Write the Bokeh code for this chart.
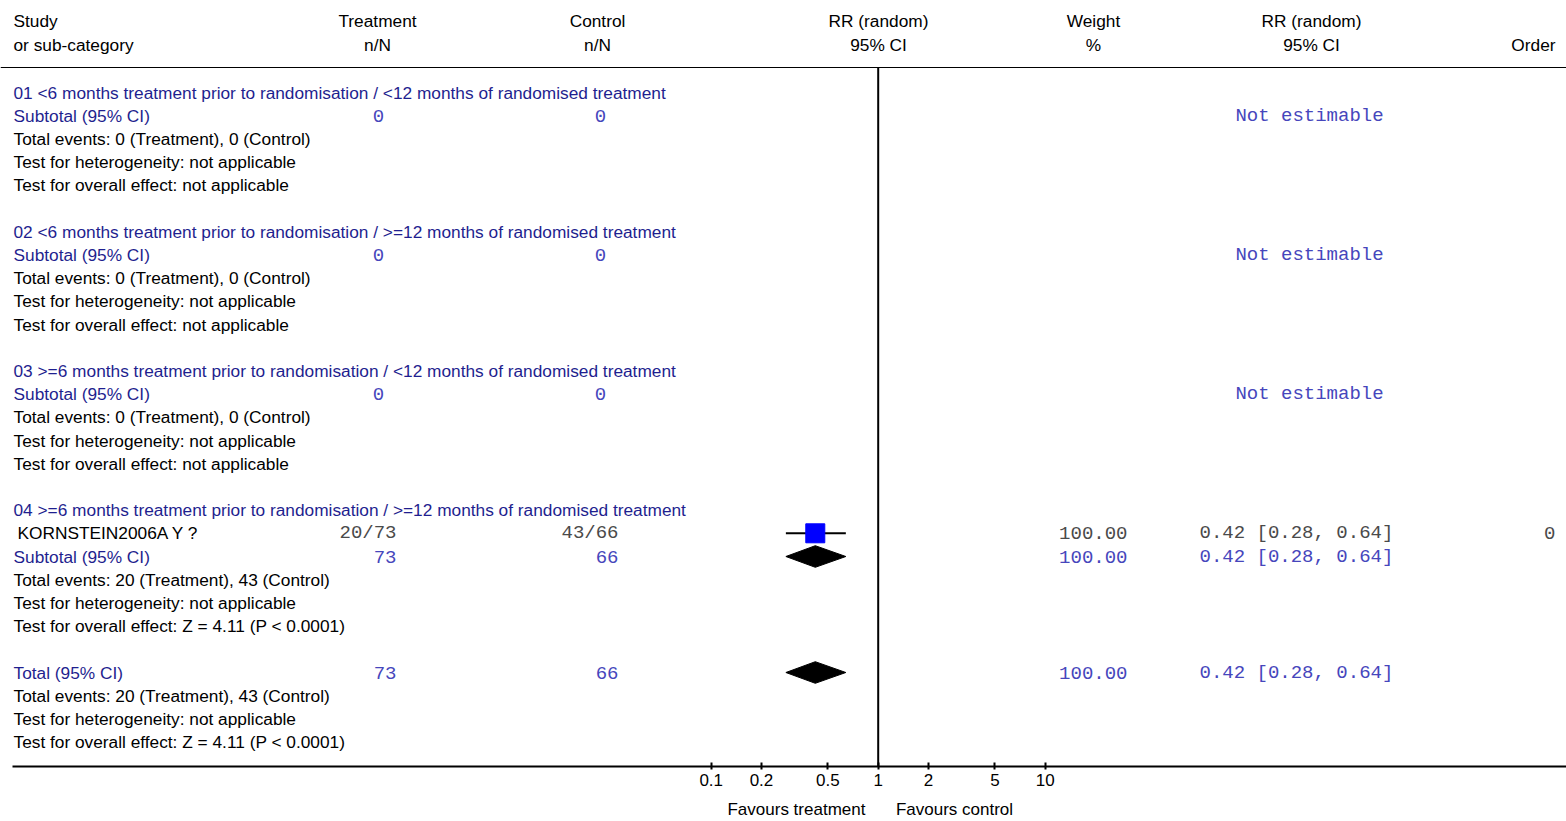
import math
from bokeh.plotting import figure
from bokeh.models import (Range1d, LogScale, LogAxis, FixedTicker,
                          CustomJSTickFormatter, Span)
from bokeh.core.properties import value
from bokeh.embed import file_html
from bokeh.resources import INLINE

# ---------------- data ----------------
header_top = ["Study", "Treatment", "Control", "RR (random)", "Weight", "RR (random)", ""]
header_bottom = ["or sub-category", "n/N", "n/N", "95% CI", "%", "95% CI", "Order"]

subgroups = [
    "01 <6 months treatment prior to randomisation / <12 months of randomised treatment",
    "02 <6 months treatment prior to randomisation / >=12 months of randomised treatment",
    "03 >=6 months treatment prior to randomisation / <12 months of randomised treatment",
    "04 >=6 months treatment prior to randomisation / >=12 months of randomised treatment",
]
sub_treat_N = [0, 0, 0, 73]
sub_ctrl_N = [0, 0, 0, 66]
sub_treat_events = [0, 0, 0, 20]
sub_ctrl_events = [0, 0, 0, 43]
sub_rr = [None, None, None, 0.42]
sub_lo = [None, None, None, 0.28]
sub_hi = [None, None, None, 0.64]
sub_weight = [None, None, None, 100.00]
sub_heterogeneity = ["not applicable"] * 4
sub_overall = ["not applicable", "not applicable", "not applicable", "Z = 4.11 (P < 0.0001)"]

study_group = [3]
study_names = ["KORNSTEIN2006A Y ?"]
study_treat_n = [20]
study_treat_N = [73]
study_ctrl_n = [43]
study_ctrl_N = [66]
study_rr = [0.42]
study_lo = [0.28]
study_hi = [0.64]
study_weight = [100.00]
study_order = [0]

total_treat_N = 73
total_ctrl_N = 66
total_treat_events = 20
total_ctrl_events = 43
total_rr, total_lo, total_hi = 0.42, 0.28, 0.64
total_weight = 100.00
total_heterogeneity = "not applicable"
total_overall = "Z = 4.11 (P < 0.0001)"

axis_ticks = [0.1, 0.2, 0.5, 1, 2, 5, 10]
favour_labels = ["Favours treatment", "Favours control"]
favour_positions = [0.324, 2.864]

# ---------------- layout constants (reference pixels) ----------------
W, H = 1566, 821
PAGE_LEFT, PAGE_TOP = 0, 0
ROW0, ROWH = 92.0, 23.2
FRAME_BOTTOM = 766.0
X_ONE, DECADE = 877.7, 167.0

SANS = value("Liberation Sans")
MONO = value("Liberation Mono")
FS = "17.3px"
FM = "19px"
BLUE = "#1f1f8f"
MBLUE = "#4646bc"
MGRAY = "#4a4a4a"
BLACK = "#000000"


def row_of(px):
    return (px - ROW0) / ROWH


def rr_of(px):
    return 10 ** ((px - X_ONE) / DECADE)


p = figure(width=W, height=H, output_backend="svg", toolbar_location=None,
           x_range=Range1d(PAGE_LEFT, PAGE_LEFT + W),
           y_range=Range1d(row_of(FRAME_BOTTOM), row_of(PAGE_TOP)),
           x_axis_location=None, y_axis_location=None,
           min_border_left=0, min_border_right=0, min_border_top=0,
           min_border_bottom=int(PAGE_TOP + H - FRAME_BOTTOM),
           background_fill_color="white", border_fill_color="white")
p.outline_line_color = None
p.grid.visible = False
p.extra_x_ranges = {"rr": Range1d(rr_of(PAGE_LEFT), rr_of(PAGE_LEFT + W))}
p.extra_x_scales = {"rr": LogScale()}

# ---------------- build rows ----------------
store = {}


def add(key, line, text):
    store.setdefault(key, {"y": [], "t": []})
    store[key]["y"].append(line)
    store[key]["t"].append(text)


diamonds = []  # (line, lo, est, hi)
squares = []   # (line, lo, est, hi)

line = 0
for g, title in enumerate(subgroups):
    add("left_blue", line, title)
    line += 1
    for s in range(len(study_names)):
        if study_group[s] != g:
            continue
        add("study_name", line, study_names[s])
        add("treat_gray", line, f"{study_treat_n[s]}/{study_treat_N[s]}")
        add("ctrl_gray", line, f"{study_ctrl_n[s]}/{study_ctrl_N[s]}")
        add("weight_gray", line, f"{study_weight[s]:.2f}")
        add("ci_gray", line, f"{study_rr[s]:.2f} [{study_lo[s]:.2f}, {study_hi[s]:.2f}]")
        add("order_gray", line, f"{study_order[s]}")
        squares.append((line, study_lo[s], study_rr[s], study_hi[s]))
        line += 1
    add("left_blue", line, "Subtotal (95% CI)")
    if sub_treat_N[g] == 0:
        add("treat_zero", line, f"{sub_treat_N[g]}")
        add("ctrl_zero", line, f"{sub_ctrl_N[g]}")
    else:
        add("treat_blue", line, f"{sub_treat_N[g]}")
        add("ctrl_blue", line, f"{sub_ctrl_N[g]}")
    if sub_rr[g] is None:
        add("not_est", line, "Not estimable")
    else:
        add("weight_blue", line, f"{sub_weight[g]:.2f}")
        add("ci_blue", line, f"{sub_rr[g]:.2f} [{sub_lo[g]:.2f}, {sub_hi[g]:.2f}]")
        diamonds.append((line, sub_lo[g], sub_rr[g], sub_hi[g]))
    line += 1
    add("left_black", line, f"Total events: {sub_treat_events[g]} (Treatment), {sub_ctrl_events[g]} (Control)")
    line += 1
    add("left_black", line, f"Test for heterogeneity: {sub_heterogeneity[g]}")
    line += 1
    add("left_black", line, f"Test for overall effect: {sub_overall[g]}")
    line += 2

add("left_blue", line, "Total (95% CI)")
add("treat_blue", line, f"{total_treat_N}")
add("ctrl_blue", line, f"{total_ctrl_N}")
add("weight_blue", line, f"{total_weight:.2f}")
add("ci_blue", line, f"{total_rr:.2f} [{total_lo:.2f}, {total_hi:.2f}]")
diamonds.append((line, total_lo, total_rr, total_hi))
line += 1
add("left_black", line, f"Total events: {total_treat_events} (Treatment), {total_ctrl_events} (Control)")
line += 1
add("left_black", line, f"Test for heterogeneity: {total_heterogeneity}")
line += 1
add("left_black", line, f"Test for overall effect: {total_overall}")

# styles: key -> (x, align, font, size, color)
styles = {
    "left_blue": (13, "left", SANS, FS, BLUE),
    "left_black": (13, "left", SANS, FS, BLACK),
    "study_name": (17, "left", SANS, FS, BLACK),
    "treat_gray": (396, "right", MONO, FM, MGRAY),
    "ctrl_gray": (618, "right", MONO, FM, MGRAY),
    "treat_blue": (396, "right", MONO, FM, MBLUE),
    "ctrl_blue": (618, "right", MONO, FM, MBLUE),
    "treat_zero": (378, "center", MONO, FM, MBLUE),
    "ctrl_zero": (600, "center", MONO, FM, MBLUE),
    "weight_gray": (1127, "right", MONO, FM, MGRAY),
    "weight_blue": (1127, "right", MONO, FM, MBLUE),
    "ci_gray": (1199, "left", MONO, FM, MGRAY),
    "ci_blue": (1199, "left", MONO, FM, MBLUE),
    "not_est": (1309, "center", MONO, FM, MBLUE),
    "order_gray": (1555, "right", MONO, FM, MGRAY),
}
for key, d in store.items():
    x, align, font, size, color = styles[key]
    p.text(x=[x] * len(d["t"]), y=d["y"], text=d["t"], text_align=align,
           text_baseline="middle", text_font=font, text_font_size=size,
           text_color=color)

# headers
hx = [(13, "left"), (377, "center"), (597, "center"), (878, "center"),
      (1093, "center"), (1311, "center"), (1555, "right")]
for (x, align), t1, t2 in zip(hx, header_top, header_bottom):
    if t1:
        p.text(x=[x], y=[row_of(20)], text=[t1], text_align=align, text_baseline="middle",
               text_font=SANS, text_font_size=FS, text_color=BLACK)
    p.text(x=[x], y=[row_of(44)], text=[t2], text_align=align, text_baseline="middle",
           text_font=SANS, text_font_size=FS, text_color=BLACK)

# separator below header
p.add_layout(Span(location=row_of(67), dimension="width", line_color=BLACK, line_width=1))

# line of no effect
p.segment(x0=[1], x1=[1], y0=[row_of(67)], y1=[row_of(FRAME_BOTTOM)],
          line_color=BLACK, line_width=2, x_range_name="rr")

# study CI and squares
p.segment(x0=[s[1] for s in squares], x1=[s[3] for s in squares],
          y0=[s[0] for s in squares], y1=[s[0] for s in squares],
          line_color=BLACK, line_width=2, x_range_name="rr")
p.scatter(x=[s[2] for s in squares], y=[s[0] for s in squares], marker="square",
          size=19, fill_color="#0000ff", line_color="#0000ff", x_range_name="rr")

# diamonds
DH = 10.8 / ROWH
p.patches(xs=[[d[1], d[2], d[3], d[2]] for d in diamonds],
          ys=[[d[0], d[0] - DH, d[0], d[0] + DH] for d in diamonds],
          fill_color=BLACK, line_color=BLACK, x_range_name="rr")

# axis
ax = LogAxis(x_range_name="rr",
             ticker=FixedTicker(ticks=axis_ticks, minor_ticks=[]),
             formatter=CustomJSTickFormatter(code="return String(tick);"),
             bounds=(rr_of(12), rr_of(PAGE_LEFT + W)))
ax.axis_line_width = 2
ax.axis_line_color = BLACK
ax.major_tick_in = 4
ax.major_tick_out = 3
ax.major_tick_line_width = 2
ax.minor_tick_line_color = None
ax.major_label_standoff = 4
ax.major_label_text_font = "Liberation Sans"
ax.major_label_text_font_size = "17px"
ax.major_label_text_color = BLACK
p.add_layout(ax, "below")

ax2 = LogAxis(x_range_name="rr",
              ticker=FixedTicker(ticks=favour_positions, minor_ticks=[]),
              formatter=CustomJSTickFormatter(args=dict(labels=favour_labels),
                                              code="return tick < 1 ? labels[0] : labels[1];"))
ax2.axis_line_color = None
ax2.major_tick_line_color = None
ax2.minor_tick_line_color = None
ax2.major_tick_in = 0
ax2.major_tick_out = 0
ax2.major_label_standoff = 11
ax2.major_label_text_font = "Liberation Sans"
ax2.major_label_text_font_size = "17px"
ax2.major_label_text_color = BLACK
p.add_layout(ax2, "below")

open("out.html", "w").write(file_html(p, INLINE))
